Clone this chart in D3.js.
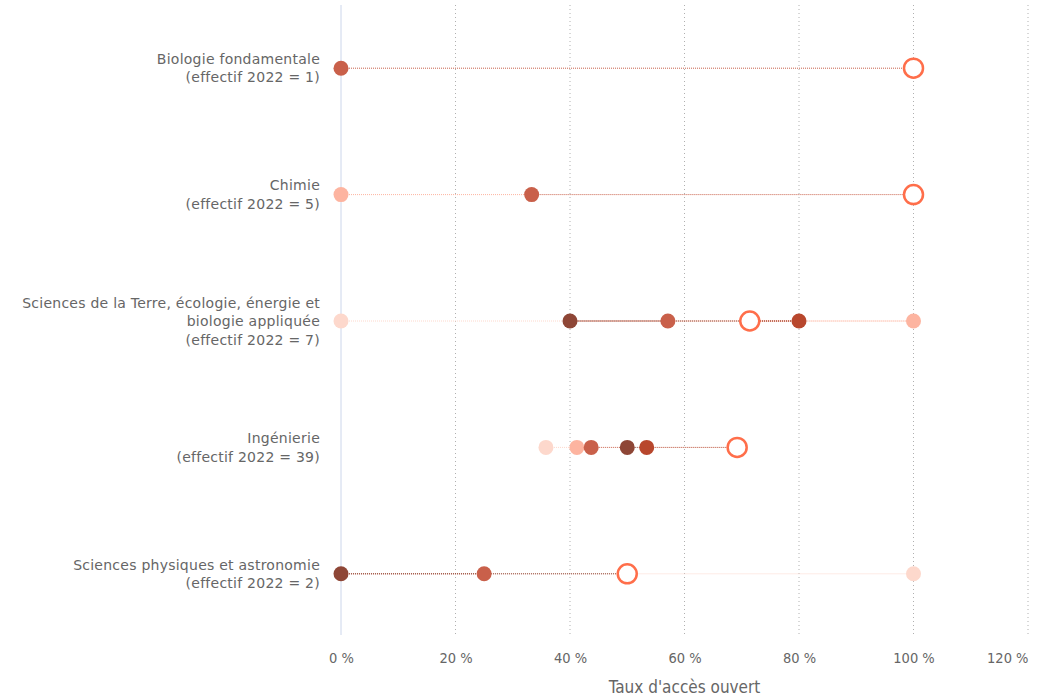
<!DOCTYPE html>
<html><head><meta charset="utf-8">
<script src="https://cdn.jsdelivr.net/npm/d3@7"></script>
<style>
html,body{margin:0;padding:0;background:#fff;}
svg{display:block;font-family:"DejaVu Sans",Verdana,sans-serif;}
</style></head>
<body><svg id="c" width="1044" height="696"></svg>
<script>
const categories = [
  ["Biologie fondamentale"],
  ["Chimie"],
  ["Sciences de la Terre, écologie, énergie et", "biologie appliquée"],
  ["Ingénierie"],
  ["Sciences physiques et astronomie"]
];
const effectifs2022 = [1, 5, 7, 39, 2];
const years = ["2017", "2018", "2019", "2020", "2021", "2022"];
const v2017 = [null, null, 0, 35.8, 100];
const v2018 = [null, 0, 100, 41.2, null];
const v2019 = [0, 33.3, 57.1, 43.7, 25];
const v2020 = [null, null, 40, 50, 0];
const v2021 = [null, null, 80, 53.4, null];
const v2022 = [100, 100, 71.4, 69.2, 50];
const yearValues = [v2017, v2018, v2019, v2020, v2021, v2022];
const yearColors = ["#fdd8cc", "#fdb4a0", "#c9604a", "#8e4636", "#b8472d", "#ff6e4a"];
const xTicks = [0, 20, 40, 60, 80, 100, 120];

(function () {
const svg = d3.select("#c");
const pLeft = 341, pRight = 1028, pTop = 5, pBottom = 637;
const x = d3.scaleLinear().domain([0, 120]).range([pLeft, pRight]);
const y = d3.scaleBand().domain(d3.range(categories.length)).range([pTop, pBottom]);
const cy = i => y(i) + y.bandwidth() / 2;

// grid
svg.append("g").selectAll("line").data(xTicks.filter(t => t > 0)).join("line")
  .attr("x1", d => x(d)).attr("x2", d => x(d)).attr("y1", pTop).attr("y2", pBottom - 2)
  .attr("stroke", "#b0b0b0").attr("stroke-width", 1).attr("stroke-dasharray", "1,3");
svg.append("line").attr("x1", x(0)).attr("x2", x(0)).attr("y1", pTop).attr("y2", pBottom - 2)
  .attr("stroke", "#ccd6eb").attr("stroke-width", 1);

// x axis labels
const xAxis = d3.axisBottom(x).tickValues(xTicks).tickSize(0).tickPadding(0).tickFormat(d => d + "\u00a0%");
const gx = svg.append("g").attr("transform", `translate(0,${pBottom + 16})`).call(xAxis);
gx.select(".domain").remove();
gx.selectAll("text").attr("fill", "#666").attr("font-size", 14.5).attr("font-family", "DejaVu Sans Condensed, DejaVu Sans, sans-serif");
gx.selectAll(".tick").filter(d => d === xTicks[xTicks.length - 1]).select("text").attr("text-anchor", "end");
svg.append("text").attr("x", (x(0) + x(120)) / 2).attr("y", 693).attr("text-anchor", "middle")
  .attr("fill", "#666").attr("font-size", 17).attr("font-family", "DejaVu Sans Condensed, DejaVu Sans, sans-serif")
  .text("Taux d'accès ouvert");

// y labels
categories.forEach((lines, i) => {
  const all = lines.concat([`(effectif 2022 = ${effectifs2022[i]})`]);
  const lh = 18.5;
  const t = svg.append("text").attr("text-anchor", "end").attr("fill", "#666")
    .attr("font-size", 14).attr("letter-spacing", 0.25);
  all.forEach((s, k) => {
    t.append("tspan").attr("x", 320)
      .attr("y", cy(i) + (k - (all.length - 1) / 2) * lh + 5).text(s);
  });
});

// connecting lines (chronological, colored by earlier year)
const segG = svg.append("g");
categories.forEach((_, i) => {
  const pts = [];
  yearValues.forEach((arr, yi) => { if (arr[i] != null) pts.push({ v: arr[i], yi }); });
  for (let k = 0; k < pts.length - 1; k++) {
    segG.append("line")
      .attr("x1", x(pts[k].v)).attr("x2", x(pts[k + 1].v))
      .attr("y1", cy(i)).attr("y2", cy(i))
      .attr("stroke", yearColors[pts[k].yi]).attr("stroke-width", 1)
      .attr("stroke-dasharray", "1,1");
  }
});

// markers
const mG = svg.append("g");
yearValues.forEach((arr, yi) => {
  const last = yi === years.length - 1;
  mG.append("g").selectAll("circle").data(arr.map((v, i) => ({ v, i })).filter(d => d.v != null)).join("circle")
    .attr("cx", d => x(d.v)).attr("cy", d => cy(d.i))
    .attr("r", last ? 9.5 : 7.5)
    .attr("fill", last ? "#fff" : yearColors[yi])
    .attr("stroke", last ? yearColors[yi] : "none")
    .attr("stroke-width", last ? 2.5 : 0);
});
})();
</script></body></html>
